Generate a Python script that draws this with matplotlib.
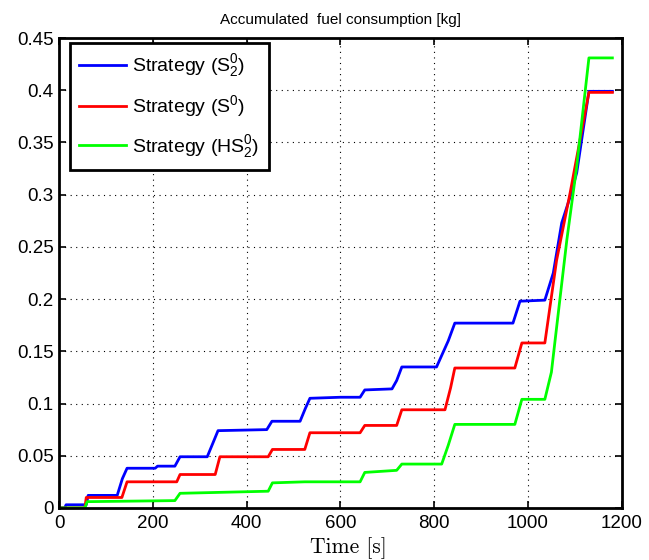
import matplotlib
matplotlib.use('Agg')
import matplotlib.pyplot as plt
from matplotlib.ticker import FormatStrFormatter

plt.rcParams['font.family'] = ['Liberation Sans', 'DejaVu Sans']
plt.rcParams['mathtext.fontset'] = 'custom'
plt.rcParams['mathtext.rm'] = 'Liberation Sans'
plt.rcParams['mathtext.it'] = 'Liberation Sans'

# Strategy (S_2^0)
t_s2 = [0, 12, 15, 58, 62, 124, 135, 145, 205, 210, 247, 258, 316, 328, 339,
        443, 454, 514, 525, 535, 600, 642, 652, 710, 720, 731, 805, 815, 830,
        844, 968, 983, 1036, 1054, 1072, 1090, 1104, 1130, 1180]
v_s2 = [0, 0, 0.003, 0.003, 0.012, 0.012, 0.028, 0.038, 0.038, 0.040, 0.040,
        0.049, 0.049, 0.062, 0.074, 0.075, 0.083, 0.083, 0.095, 0.105, 0.106,
        0.106, 0.113, 0.114, 0.122, 0.135, 0.135, 0.145, 0.160, 0.177, 0.177,
        0.198, 0.199, 0.225, 0.273, 0.298, 0.321, 0.399, 0.399]

# Strategy (S^0)
t_s = [0, 55, 58, 134, 145, 251, 258, 333, 343, 446, 455, 524, 535, 642, 652,
       720, 731, 823, 835, 844, 972, 987, 1036, 1061, 1090, 1130, 1180]
v_s = [0, 0, 0.010, 0.010, 0.025, 0.025, 0.032, 0.032, 0.049, 0.049, 0.056,
       0.056, 0.072, 0.072, 0.079, 0.079, 0.094, 0.094, 0.115, 0.134, 0.134,
       0.158, 0.158, 0.237, 0.302, 0.398, 0.398]

# Strategy (HS_2^0)
t_hs = [0, 55, 60, 247, 258, 446, 455, 524, 642, 652, 720, 731, 816, 830, 844,
        972, 987, 1036, 1050, 1058, 1083, 1104, 1130, 1180]
v_hs = [0, 0, 0.006, 0.007, 0.014, 0.016, 0.024, 0.025, 0.025, 0.034, 0.036,
        0.042, 0.042, 0.060, 0.080, 0.080, 0.104, 0.104, 0.130, 0.161, 0.257,
        0.327, 0.431, 0.431]

labels = [r'Strategy (S$^0_2$)', r'Strategy (S$^0$)', r'Strategy (HS$^0_2$)']

fig = plt.figure(figsize=(6.49, 5.6), dpi=100)
ax = fig.add_axes([0.091, 0.093, 0.867, 0.839])

ax.plot(t_s2, v_s2, color='#0000ff', lw=2.0, label=labels[0])
ax.plot(t_s, v_s, color='#ff0000', lw=2.0, label=labels[1])
ax.plot(t_hs, v_hs, color='#00ff00', lw=2.0, label=labels[2])

ax.set_xlim(0, 1200)
ax.set_ylim(0, 0.45)
ax.set_xticks(range(0, 1201, 200))
ax.set_yticks([i * 0.05 for i in range(10)])
ax.yaxis.set_major_formatter(FormatStrFormatter('%g'))
ax.tick_params(direction='in', length=5, width=1.2, top=True, right=True,
               labelsize=13.5, colors='black')
ax.tick_params(axis='x', pad=5)
ax.tick_params(axis='y', pad=4)
ax.grid(True, color='black', linestyle=(0, (1, 4)), linewidth=0.8)
for s in ax.spines.values():
    s.set_linewidth(2)

ax.set_title('Accumulated  fuel consumption [kg]', fontsize=11, pad=10)
ax.set_xlabel('Time [s]', fontfamily='cmr10', fontsize=15.5, va='top')
ax.xaxis.set_label_coords(0.515, -0.062)

leg = ax.legend(loc='upper left', bbox_to_anchor=(0.019, 0.99),
                borderaxespad=0, fontsize=14, handlelength=2.4,
                handletextpad=0.3, labelspacing=0.72, borderpad=0.5,
                fancybox=False, framealpha=1)
leg.get_frame().set_edgecolor('black')
leg.get_frame().set_linewidth(2)

fig.savefig('out.png', dpi=100)
